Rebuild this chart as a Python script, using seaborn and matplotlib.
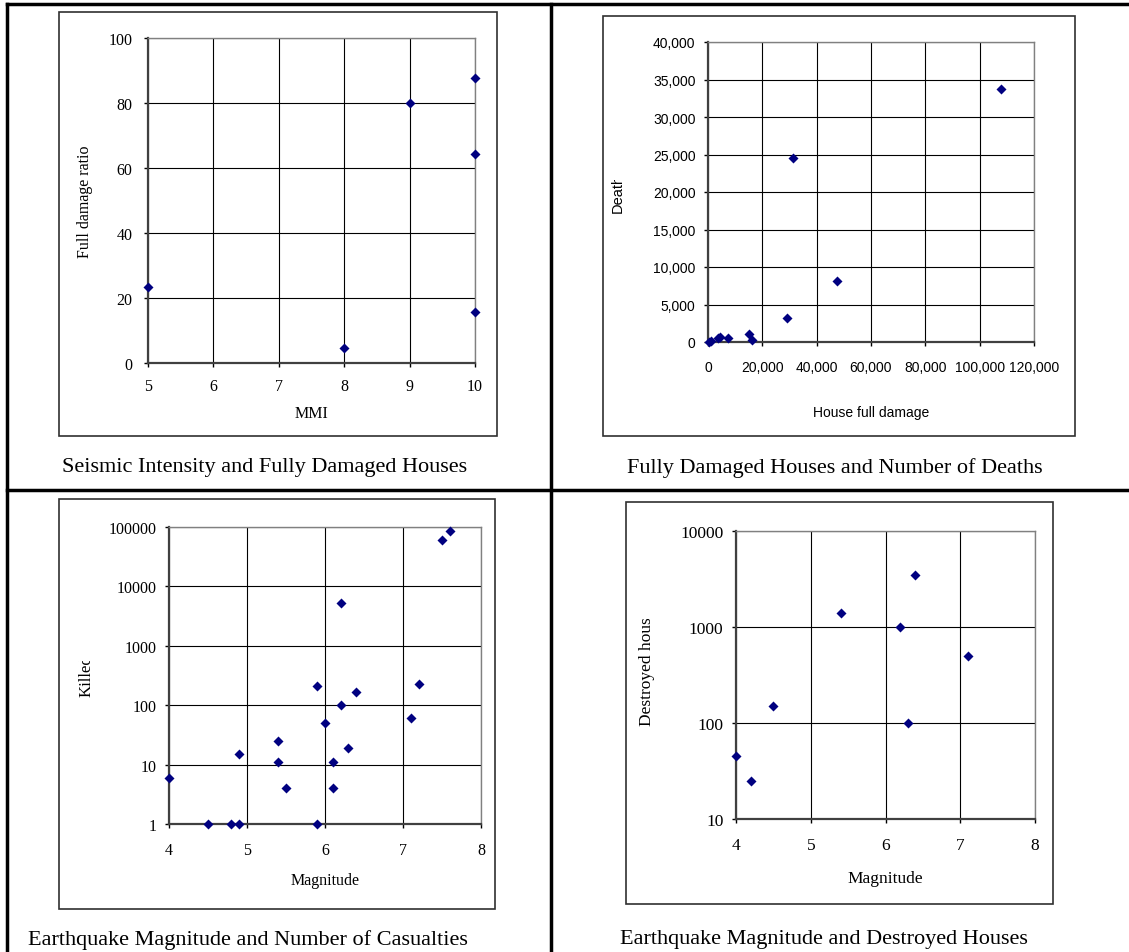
import pandas as pd
import matplotlib.pyplot as plt
import seaborn as sns
from matplotlib.patches import Rectangle
from matplotlib.lines import Line2D
from matplotlib.ticker import FuncFormatter, FixedLocator
from matplotlib.transforms import Bbox, TransformedBbox


# データ
mmi = [5, 8, 9, 10, 10, 10]
full_damage_ratio = [23.3, 4.6, 80, 87.7, 64.3, 15.6]

house_full_damage = [107800, 31200, 47600, 29000, 15200, 16200, 7300, 3500, 4600, 300, 1000]
deaths = [33700, 24500, 8100, 3250, 1100, 250, 500, 500, 700, 0, 100]

mag_killed = [4.0, 4.5, 4.8, 4.9, 4.9, 5.4, 5.4, 5.5, 5.9, 5.9, 6.0, 6.1, 6.1,
              6.2, 6.2, 6.3, 6.4, 7.1, 7.2, 7.5, 7.6]
killed = [6, 1, 1, 1, 15, 25, 11, 4, 210, 1, 50, 11, 4,
          5300, 100, 19, 168, 60, 229, 60000, 87000]

mag_destroyed = [4.0, 4.2, 4.5, 5.4, 6.2, 6.4, 6.3, 7.1]
destroyed = [45, 25, 150, 1400, 1000, 3500, 100, 500]

captions = ["Seismic Intensity and Fully Damaged Houses",
            "Fully Damaged Houses and Number of Deaths",
            "Earthquake Magnitude and Number of Casualties",
            "Earthquake Magnitude and Destroyed Houses"]

W, H = 1129, 953
fig = plt.figure(figsize=(W / 100, H / 100), dpi=100)
fig.patch.set_facecolor("white")

SERIF = ["Liberation Serif", "DejaVu Serif"]
SANS = ["Liberation Sans", "DejaVu Sans"]
NAVY = "#000080"
MS = 26


def px_rect(x0, y0, x1, y1):
    # ピクセル座標 -> figure 座標
    return [x0 / W, 1 - y1 / H, (x1 - x0) / W, (y1 - y0) / H]


def fig_line(x0, y0, x1, y1, lw=2.5):
    fig.add_artist(Line2D([x0 / W, x1 / W], [1 - y0 / H, 1 - y1 / H],
                          color="black", lw=lw, transform=fig.transFigure))


def chart_box(x0, y0, x1, y1):
    fig.add_artist(Rectangle((x0 / W, 1 - y1 / H), (x1 - x0) / W, (y1 - y0) / H,
                             transform=fig.transFigure, fill=False,
                             edgecolor="#303030", lw=1.2))


def clip_label_top(label, y_top):
    # Excel 風にラベルの上端を切る
    box = Bbox.from_extents(0, 0, 1, 1 - y_top / H)
    label.set_clip_on(True)
    label.set_clip_box(TransformedBbox(box, fig.transFigure))


def style_axes(ax, family, size):
    ax.grid(True, color="black", lw=0.8)
    ax.set_axisbelow(True)
    for side in ["top", "right"]:
        ax.spines[side].set_color("#808080")
        ax.spines[side].set_linewidth(1.0)
    for side in ["left", "bottom"]:
        ax.spines[side].set_color("#404040")
        ax.spines[side].set_linewidth(1.6)
    ax.tick_params(direction="out", length=3, width=1, colors="black",
                   labelsize=size, pad=6)
    for lab in ax.get_xticklabels() + ax.get_yticklabels():
        lab.set_family(family)


# 表の罫線
fig_line(7, 5, W, 5)
fig_line(7, 5, 7, H)
fig_line(551, 5, 551, H)
fig_line(7, 491, W, 491)

# 枠
chart_box(59, 13, 497, 437)
chart_box(603, 17, 1075, 437)
chart_box(59, 500, 495, 910)
chart_box(626, 503, 1053, 905)

# 1. MMI vs 全壊率
ax1 = fig.add_axes(px_rect(148, 39, 475, 364))
df1 = pd.DataFrame({"MMI": mmi, "ratio": full_damage_ratio})
sns.scatterplot(data=df1, x="MMI", y="ratio", ax=ax1, marker="D", s=MS,
                color=NAVY, linewidth=0, clip_on=False, zorder=3)
ax1.set_xlim(5, 10)
ax1.set_ylim(0, 100)
ax1.set_xticks(range(5, 11))
ax1.set_yticks(range(0, 101, 20))
style_axes(ax1, SERIF, 11.5)
ax1.tick_params(axis="x", pad=8)
ax1.tick_params(axis="y", pad=8)
ax1.set_xlabel("MMI", family=SERIF, fontsize=11.5, labelpad=8)
ax1.set_ylabel("Full damage ratio", family=SERIF, fontsize=11.5, labelpad=11)

# 2. 全壊家屋 vs 死者
ax2 = fig.add_axes(px_rect(708, 43, 1034, 343))
df2 = pd.DataFrame({"house": house_full_damage, "death": deaths})
sns.scatterplot(data=df2, x="house", y="death", ax=ax2, marker="D", s=MS,
                color=NAVY, linewidth=0, clip_on=False, zorder=3)
ax2.set_xlim(0, 120000)
ax2.set_ylim(0, 40000)
ax2.set_xticks(range(0, 120001, 20000))
ax2.set_yticks(range(0, 40001, 5000))
comma = FuncFormatter(lambda v, p: f"{int(v):,}")
ax2.xaxis.set_major_formatter(comma)
ax2.yaxis.set_major_formatter(comma)
style_axes(ax2, SANS, 10)
ax2.tick_params(axis="x", pad=10)
ax2.set_xlabel("House full damage", family=SANS, fontsize=10, labelpad=22)
ax2.set_ylabel("Death", family=SANS, fontsize=10.5, labelpad=20)
clip_label_top(ax2.yaxis.label, 181)

# 3. マグニチュード vs 死者 (対数)
ax3 = fig.add_axes(px_rect(169, 528, 481, 825))
df3 = pd.DataFrame({"mag": mag_killed, "killed": killed})
sns.scatterplot(data=df3, x="mag", y="killed", ax=ax3, marker="D", s=MS,
                color=NAVY, linewidth=0, clip_on=False, zorder=3)
ax3.set_yscale("log")
ax3.set_xlim(4, 8)
ax3.set_ylim(1, 100000)
ax3.set_xticks(range(4, 9))
ax3.yaxis.set_major_locator(FixedLocator([1, 10, 100, 1000, 10000, 100000]))
ax3.yaxis.set_minor_locator(FixedLocator([]))
ax3.yaxis.set_major_formatter(FuncFormatter(lambda v, p: f"{int(v)}"))
style_axes(ax3, SERIF, 11.5)
ax3.tick_params(axis="x", pad=10)
ax3.set_xlabel("Magnitude", family=SERIF, fontsize=11.5, labelpad=10)
ax3.set_ylabel("Killed", family=SERIF, fontsize=12, labelpad=10)
clip_label_top(ax3.yaxis.label, 662)

# 4. マグニチュード vs 全壊家屋 (対数)
ax4 = fig.add_axes(px_rect(736, 532, 1035, 820))
df4 = pd.DataFrame({"mag": mag_destroyed, "destroyed": destroyed})
sns.scatterplot(data=df4, x="mag", y="destroyed", ax=ax4, marker="D", s=MS,
                color=NAVY, linewidth=0, clip_on=False, zorder=3)
ax4.set_yscale("log")
ax4.set_xlim(4, 8)
ax4.set_ylim(10, 10000)
ax4.set_xticks(range(4, 9))
ax4.yaxis.set_major_locator(FixedLocator([10, 100, 1000, 10000]))
ax4.yaxis.set_minor_locator(FixedLocator([]))
ax4.yaxis.set_major_formatter(FuncFormatter(lambda v, p: f"{int(v)}"))
style_axes(ax4, SERIF, 12.5)
ax4.tick_params(axis="x", pad=10)
ax4.set_xlabel("Magnitude", family=SERIF, fontsize=12.5, labelpad=12)
ax4.set_ylabel("Destroyed houses", family=SERIF, fontsize=12.5)
ax4.yaxis.set_label_coords(-0.27, 0.54)
clip_label_top(ax4.yaxis.label, 620)

# キャプション
for (cx, cy), text in zip([(265, 468), (835, 468), (248, 940), (824, 940)], captions):
    fig.text(cx / W, 1 - cy / H, text, ha="center", va="center",
             family=SERIF, fontsize=16)

fig.savefig("out.png", dpi=100)
